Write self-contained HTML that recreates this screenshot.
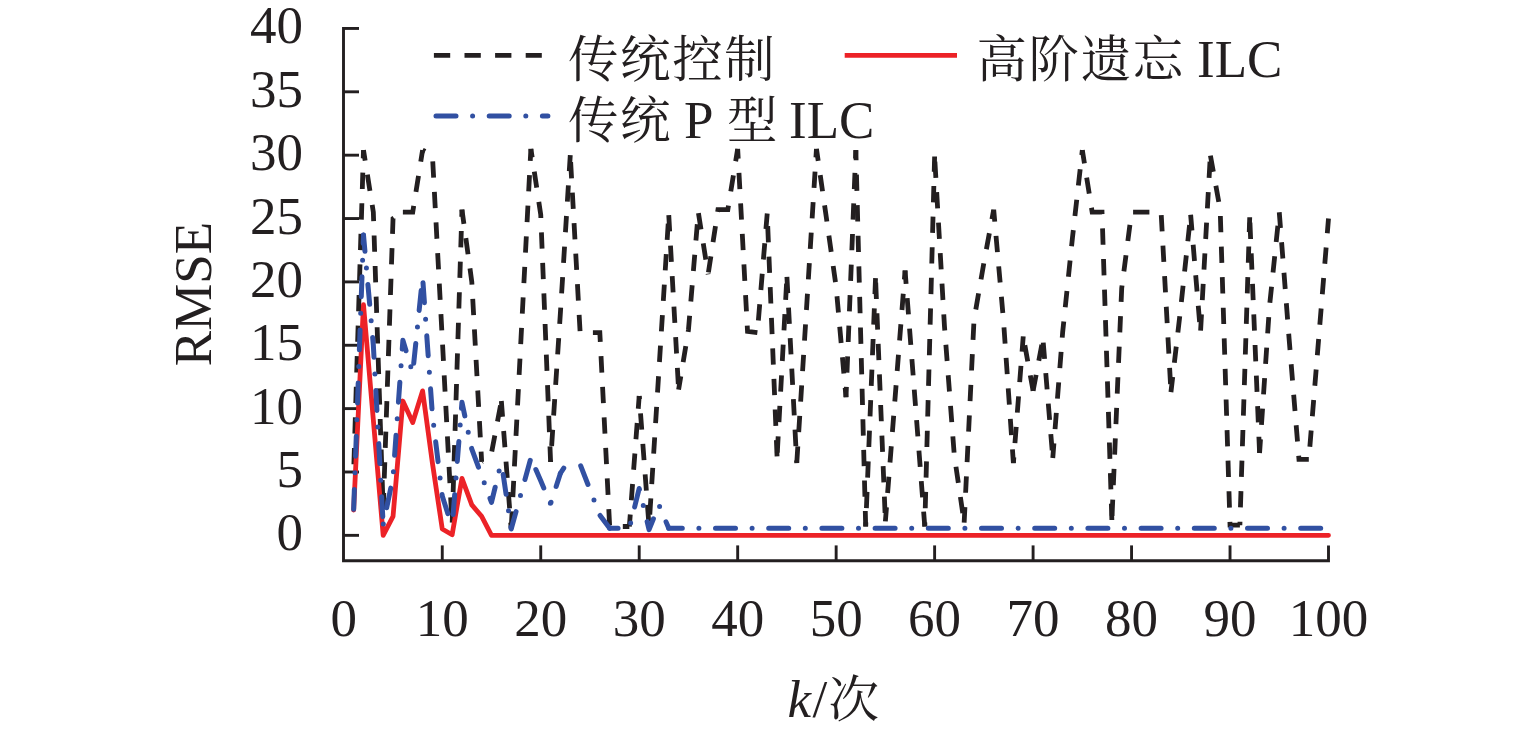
<!DOCTYPE html>
<html><head><meta charset="utf-8"><style>
html,body{margin:0;padding:0;background:#fff;overflow:hidden}
svg{display:block}
.n{font-family:"Liberation Serif","Noto Serif CJK SC",serif;font-size:53px;fill:#231f20}
.c{font-family:"Liberation Serif","Noto Serif CJK SC",serif;font-size:50.5px;fill:#231f20;font-weight:400;letter-spacing:1.6px}
tspan.n{font-size:53px}
</style></head><body>
<svg width="1535" height="734" viewBox="0 0 1535 734">
<rect width="1535" height="734" fill="#fff"/>
<path d="M343.5,26.95 V560.70 H1328.50 V545.40" fill="none" stroke="#231f20" stroke-width="2.9" stroke-linejoin="miter"/>
<line x1="343.5" x2="359" y1="535.35" y2="535.35" stroke="#231f20" stroke-width="2.9"/>
<line x1="343.5" x2="359" y1="471.99" y2="471.99" stroke="#231f20" stroke-width="2.9"/>
<line x1="343.5" x2="359" y1="408.62" y2="408.62" stroke="#231f20" stroke-width="2.9"/>
<line x1="343.5" x2="359" y1="345.26" y2="345.26" stroke="#231f20" stroke-width="2.9"/>
<line x1="343.5" x2="359" y1="281.90" y2="281.90" stroke="#231f20" stroke-width="2.9"/>
<line x1="343.5" x2="359" y1="218.54" y2="218.54" stroke="#231f20" stroke-width="2.9"/>
<line x1="343.5" x2="359" y1="155.18" y2="155.18" stroke="#231f20" stroke-width="2.9"/>
<line x1="343.5" x2="359" y1="91.81" y2="91.81" stroke="#231f20" stroke-width="2.9"/>
<line x1="343.5" x2="359" y1="28.45" y2="28.45" stroke="#231f20" stroke-width="2.9"/>
<line x1="442.27" x2="442.27" y1="560.70" y2="545.40" stroke="#231f20" stroke-width="2.9"/>
<line x1="540.74" x2="540.74" y1="560.70" y2="545.40" stroke="#231f20" stroke-width="2.9"/>
<line x1="639.21" x2="639.21" y1="560.70" y2="545.40" stroke="#231f20" stroke-width="2.9"/>
<line x1="737.68" x2="737.68" y1="560.70" y2="545.40" stroke="#231f20" stroke-width="2.9"/>
<line x1="836.15" x2="836.15" y1="560.70" y2="545.40" stroke="#231f20" stroke-width="2.9"/>
<line x1="934.62" x2="934.62" y1="560.70" y2="545.40" stroke="#231f20" stroke-width="2.9"/>
<line x1="1033.09" x2="1033.09" y1="560.70" y2="545.40" stroke="#231f20" stroke-width="2.9"/>
<line x1="1131.56" x2="1131.56" y1="560.70" y2="545.40" stroke="#231f20" stroke-width="2.9"/>
<line x1="1230.03" x2="1230.03" y1="560.70" y2="545.40" stroke="#231f20" stroke-width="2.9"/>
<polyline points="353.65,471.99 363.49,150.11" fill="none" stroke="#231f20" stroke-width="4.8" stroke-dasharray="16.3 14.3" stroke-dashoffset="22.85" stroke-linejoin="miter" stroke-miterlimit="4"/>
<polyline points="363.49,150.11 373.34,212.20 383.19,510.00" fill="none" stroke="#231f20" stroke-width="4.8" stroke-dasharray="16.3 14.3" stroke-dashoffset="5.66" stroke-linejoin="miter" stroke-miterlimit="4"/>
<polyline points="383.19,510.00 393.04,218.54 402.88,212.20" fill="none" stroke="#231f20" stroke-width="4.8" stroke-dasharray="16.3 14.3" stroke-dashoffset="29.70" stroke-linejoin="miter" stroke-miterlimit="4"/>
<polyline points="402.88,212.20 412.73,212.20 422.58,150.11" fill="none" stroke="#231f20" stroke-width="4.8" stroke-dasharray="16.3 14.3" stroke-dashoffset="0.15" stroke-linejoin="miter" stroke-miterlimit="4"/>
<polyline points="422.58,150.11 432.42,155.18 442.27,338.93 452.12,525.21" fill="none" stroke="#231f20" stroke-width="4.8" stroke-dasharray="16.3 14.3" stroke-dashoffset="13.34" stroke-linejoin="miter" stroke-miterlimit="4"/>
<polyline points="452.12,525.21 461.96,209.67" fill="none" stroke="#231f20" stroke-width="4.8" stroke-dasharray="16.3 14.3" stroke-dashoffset="27.98" stroke-linejoin="miter" stroke-miterlimit="4"/>
<polyline points="461.96,209.67 471.81,281.90 481.66,461.85" fill="none" stroke="#231f20" stroke-width="4.8" stroke-dasharray="16.3 14.3" stroke-dashoffset="1.94" stroke-linejoin="miter" stroke-miterlimit="4"/>
<polyline points="481.66,461.85 491.50,452.98 501.35,401.02" fill="none" stroke="#231f20" stroke-width="4.8" stroke-dasharray="16.3 14.3" stroke-dashoffset="15.84" stroke-linejoin="miter" stroke-miterlimit="4"/>
<polyline points="501.35,401.02 511.20,529.01" fill="none" stroke="#231f20" stroke-width="4.8" stroke-dasharray="16.3 14.3" stroke-dashoffset="0.48" stroke-linejoin="miter" stroke-miterlimit="4"/>
<polyline points="511.20,529.01 521.05,337.66 530.89,148.84" fill="none" stroke="#231f20" stroke-width="4.8" stroke-dasharray="16.3 14.3" stroke-dashoffset="29.19" stroke-linejoin="miter" stroke-miterlimit="4"/>
<polyline points="530.89,148.84 540.74,214.74 550.59,461.85" fill="none" stroke="#231f20" stroke-width="4.8" stroke-dasharray="16.3 14.3" stroke-dashoffset="7.60" stroke-linejoin="miter" stroke-miterlimit="4"/>
<polyline points="550.59,461.85 560.43,312.31 570.28,155.18" fill="none" stroke="#231f20" stroke-width="4.8" stroke-dasharray="16.3 14.3" stroke-dashoffset="14.73" stroke-linejoin="miter" stroke-miterlimit="4"/>
<polyline points="570.28,155.18 580.13,332.59 589.98,332.59 599.82,332.59 609.67,526.48 619.52,526.48 629.36,526.48" fill="none" stroke="#231f20" stroke-width="4.8" stroke-dasharray="16.3 14.3" stroke-dashoffset="23.74" stroke-linejoin="miter" stroke-miterlimit="4"/>
<polyline points="629.36,526.48 639.21,395.95" fill="none" stroke="#231f20" stroke-width="4.8" stroke-dasharray="16.3 14.3" stroke-dashoffset="4.28" stroke-linejoin="miter" stroke-miterlimit="4"/>
<polyline points="639.21,395.95 649.06,526.48" fill="none" stroke="#231f20" stroke-width="4.8" stroke-dasharray="16.3 14.3" stroke-dashoffset="13.10" stroke-linejoin="miter" stroke-miterlimit="4"/>
<polyline points="649.06,526.48 658.90,370.61 668.75,214.74" fill="none" stroke="#231f20" stroke-width="4.8" stroke-dasharray="16.3 14.3" stroke-dashoffset="18.77" stroke-linejoin="miter" stroke-miterlimit="4"/>
<polyline points="668.75,214.74 678.60,389.62" fill="none" stroke="#231f20" stroke-width="4.8" stroke-dasharray="16.3 14.3" stroke-dashoffset="30.32" stroke-linejoin="miter" stroke-miterlimit="4"/>
<polyline points="678.60,389.62 688.44,330.06 698.29,212.20" fill="none" stroke="#231f20" stroke-width="4.8" stroke-dasharray="16.3 14.3" stroke-dashoffset="2.77" stroke-linejoin="miter" stroke-miterlimit="4"/>
<polyline points="698.29,212.20 708.14,274.30" fill="none" stroke="#231f20" stroke-width="4.8" stroke-dasharray="16.3 14.3" stroke-dashoffset="29.56" stroke-linejoin="miter" stroke-miterlimit="4"/>
<polyline points="708.14,274.30 717.99,209.67 727.83,209.67 737.68,148.84" fill="none" stroke="#231f20" stroke-width="4.8" stroke-dasharray="16.3 14.3" stroke-dashoffset="28.74" stroke-linejoin="miter" stroke-miterlimit="4"/>
<polyline points="737.68,148.84 747.53,331.32 757.37,332.59" fill="none" stroke="#231f20" stroke-width="4.8" stroke-dasharray="16.3 14.3" stroke-dashoffset="6.59" stroke-linejoin="miter" stroke-miterlimit="4"/>
<polyline points="757.37,332.59 767.22,213.47" fill="none" stroke="#231f20" stroke-width="4.8" stroke-dasharray="16.3 14.3" stroke-dashoffset="18.51" stroke-linejoin="miter" stroke-miterlimit="4"/>
<polyline points="767.22,213.47 777.07,456.78" fill="none" stroke="#231f20" stroke-width="4.8" stroke-dasharray="16.3 14.3" stroke-dashoffset="18.00" stroke-linejoin="miter" stroke-miterlimit="4"/>
<polyline points="777.07,456.78 786.91,276.83" fill="none" stroke="#231f20" stroke-width="4.8" stroke-dasharray="16.3 14.3" stroke-dashoffset="26.48" stroke-linejoin="miter" stroke-miterlimit="4"/>
<polyline points="786.91,276.83 796.76,463.12" fill="none" stroke="#231f20" stroke-width="4.8" stroke-dasharray="16.3 14.3" stroke-dashoffset="30.47" stroke-linejoin="miter" stroke-miterlimit="4"/>
<polyline points="796.76,463.12 806.61,307.25 816.46,148.84" fill="none" stroke="#231f20" stroke-width="4.8" stroke-dasharray="16.3 14.3" stroke-dashoffset="30.19" stroke-linejoin="miter" stroke-miterlimit="4"/>
<polyline points="816.46,148.84 826.30,217.27 836.15,286.97 846.00,397.22" fill="none" stroke="#231f20" stroke-width="4.8" stroke-dasharray="16.3 14.3" stroke-dashoffset="4.08" stroke-linejoin="miter" stroke-miterlimit="4"/>
<polyline points="846.00,397.22 855.84,150.11" fill="none" stroke="#231f20" stroke-width="4.8" stroke-dasharray="16.3 14.3" stroke-dashoffset="5.94" stroke-linejoin="miter" stroke-miterlimit="4"/>
<polyline points="855.84,150.11 865.69,526.48" fill="none" stroke="#231f20" stroke-width="4.8" stroke-dasharray="16.3 14.3" stroke-dashoffset="6.13" stroke-linejoin="miter" stroke-miterlimit="4"/>
<polyline points="865.69,526.48 875.54,278.10" fill="none" stroke="#231f20" stroke-width="4.8" stroke-dasharray="16.3 14.3" stroke-dashoffset="12.25" stroke-linejoin="miter" stroke-miterlimit="4"/>
<polyline points="875.54,278.10 885.38,521.41" fill="none" stroke="#231f20" stroke-width="4.8" stroke-dasharray="16.3 14.3" stroke-dashoffset="26.01" stroke-linejoin="miter" stroke-miterlimit="4"/>
<polyline points="885.38,521.41 895.23,395.95 905.08,270.49" fill="none" stroke="#231f20" stroke-width="4.8" stroke-dasharray="16.3 14.3" stroke-dashoffset="2.12" stroke-linejoin="miter" stroke-miterlimit="4"/>
<polyline points="905.08,270.49 914.93,398.49 924.77,526.48" fill="none" stroke="#231f20" stroke-width="4.8" stroke-dasharray="16.3 14.3" stroke-dashoffset="2.94" stroke-linejoin="miter" stroke-miterlimit="4"/>
<polyline points="924.77,526.48 934.62,156.44" fill="none" stroke="#231f20" stroke-width="4.8" stroke-dasharray="16.3 14.3" stroke-dashoffset="12.32" stroke-linejoin="miter" stroke-miterlimit="4"/>
<polyline points="934.62,156.44 944.47,326.25 954.31,455.51 964.16,522.68" fill="none" stroke="#231f20" stroke-width="4.8" stroke-dasharray="16.3 14.3" stroke-dashoffset="25.51" stroke-linejoin="miter" stroke-miterlimit="4"/>
<polyline points="964.16,522.68 974.01,319.92 983.86,262.89 993.70,209.67" fill="none" stroke="#231f20" stroke-width="4.8" stroke-dasharray="16.3 14.3" stroke-dashoffset="0.64" stroke-linejoin="miter" stroke-miterlimit="4"/>
<polyline points="993.70,209.67 1003.55,321.18 1013.40,463.12" fill="none" stroke="#231f20" stroke-width="4.8" stroke-dasharray="16.3 14.3" stroke-dashoffset="4.30" stroke-linejoin="miter" stroke-miterlimit="4"/>
<polyline points="1013.40,463.12 1023.24,336.39" fill="none" stroke="#231f20" stroke-width="4.8" stroke-dasharray="16.3 14.3" stroke-dashoffset="10.59" stroke-linejoin="miter" stroke-miterlimit="4"/>
<polyline points="1023.24,336.39 1033.09,390.88" fill="none" stroke="#231f20" stroke-width="4.8" stroke-dasharray="16.3 14.3" stroke-dashoffset="21.55" stroke-linejoin="miter" stroke-miterlimit="4"/>
<polyline points="1033.09,390.88 1042.94,338.93" fill="none" stroke="#231f20" stroke-width="4.8" stroke-dasharray="16.3 14.3" stroke-dashoffset="0.00" stroke-linejoin="miter" stroke-miterlimit="4"/>
<polyline points="1042.94,338.93 1052.78,458.05" fill="none" stroke="#231f20" stroke-width="4.8" stroke-dasharray="16.3 14.3" stroke-dashoffset="26.86" stroke-linejoin="miter" stroke-miterlimit="4"/>
<polyline points="1052.78,458.05 1062.63,332.59 1072.48,237.55 1082.33,150.11" fill="none" stroke="#231f20" stroke-width="4.8" stroke-dasharray="16.3 14.3" stroke-dashoffset="1.64" stroke-linejoin="miter" stroke-miterlimit="4"/>
<polyline points="1082.33,150.11 1092.17,212.20 1102.02,212.20 1111.87,520.14" fill="none" stroke="#231f20" stroke-width="4.8" stroke-dasharray="16.3 14.3" stroke-dashoffset="2.84" stroke-linejoin="miter" stroke-miterlimit="4"/>
<polyline points="1111.87,520.14 1121.71,288.24 1131.56,212.20 1141.41,212.20 1151.25,212.20 1161.10,212.20" fill="none" stroke="#231f20" stroke-width="4.8" stroke-dasharray="16.3 14.3" stroke-dashoffset="26.28" stroke-linejoin="miter" stroke-miterlimit="4"/>
<polyline points="1161.10,212.20 1170.95,392.15" fill="none" stroke="#231f20" stroke-width="4.8" stroke-dasharray="16.3 14.3" stroke-dashoffset="27.71" stroke-linejoin="miter" stroke-miterlimit="4"/>
<polyline points="1170.95,392.15 1180.80,307.25 1190.64,214.74" fill="none" stroke="#231f20" stroke-width="4.8" stroke-dasharray="16.3 14.3" stroke-dashoffset="1.06" stroke-linejoin="miter" stroke-miterlimit="4"/>
<polyline points="1190.64,214.74 1200.49,332.59" fill="none" stroke="#231f20" stroke-width="4.8" stroke-dasharray="16.3 14.3" stroke-dashoffset="0.42" stroke-linejoin="miter" stroke-miterlimit="4"/>
<polyline points="1200.49,332.59 1210.34,155.18" fill="none" stroke="#231f20" stroke-width="4.8" stroke-dasharray="16.3 14.3" stroke-dashoffset="28.66" stroke-linejoin="miter" stroke-miterlimit="4"/>
<polyline points="1210.34,155.18 1220.18,209.67 1230.03,525.21 1239.88,525.21" fill="none" stroke="#231f20" stroke-width="4.8" stroke-dasharray="16.3 14.3" stroke-dashoffset="30.10" stroke-linejoin="miter" stroke-miterlimit="4"/>
<polyline points="1239.88,525.21 1249.72,217.27" fill="none" stroke="#231f20" stroke-width="4.8" stroke-dasharray="16.3 14.3" stroke-dashoffset="12.83" stroke-linejoin="miter" stroke-miterlimit="4"/>
<polyline points="1249.72,217.27 1259.57,452.98" fill="none" stroke="#231f20" stroke-width="4.8" stroke-dasharray="16.3 14.3" stroke-dashoffset="25.15" stroke-linejoin="miter" stroke-miterlimit="4"/>
<polyline points="1259.57,452.98 1269.42,307.25 1279.26,212.20" fill="none" stroke="#231f20" stroke-width="4.8" stroke-dasharray="16.3 14.3" stroke-dashoffset="2.51" stroke-linejoin="miter" stroke-miterlimit="4"/>
<polyline points="1279.26,212.20 1289.11,338.93 1298.96,459.32 1308.81,459.32" fill="none" stroke="#231f20" stroke-width="4.8" stroke-dasharray="16.3 14.3" stroke-dashoffset="0.43" stroke-linejoin="miter" stroke-miterlimit="4"/>
<polyline points="1308.81,459.32 1318.65,338.93 1328.50,218.54" fill="none" stroke="#231f20" stroke-width="4.8" stroke-dasharray="16.3 14.3" stroke-dashoffset="17.92" stroke-linejoin="miter" stroke-miterlimit="4"/>
<polyline points="353.65,510.00 363.49,304.71 373.34,420.03 383.19,535.35 393.04,516.34 402.88,401.02 412.73,422.56 422.58,390.88 432.42,463.12 442.27,529.01 452.12,534.72 461.96,478.32 471.81,504.94 481.66,516.34 491.50,535.35 501.35,535.35 511.20,535.35 521.05,535.35 530.89,535.35 540.74,535.35 550.59,535.35 560.43,535.35 570.28,535.35 580.13,535.35 589.98,535.35 599.82,535.35 609.67,535.35 619.52,535.35 629.36,535.35 639.21,535.35 649.06,535.35 658.90,535.35 668.75,535.35 678.60,535.35 688.44,535.35 698.29,535.35 708.14,535.35 717.99,535.35 727.83,535.35 737.68,535.35 747.53,535.35 757.37,535.35 767.22,535.35 777.07,535.35 786.91,535.35 796.76,535.35 806.61,535.35 816.46,535.35 826.30,535.35 836.15,535.35 846.00,535.35 855.84,535.35 865.69,535.35 875.54,535.35 885.38,535.35 895.23,535.35 905.08,535.35 914.93,535.35 924.77,535.35 934.62,535.35 944.47,535.35 954.31,535.35 964.16,535.35 974.01,535.35 983.86,535.35 993.70,535.35 1003.55,535.35 1013.40,535.35 1023.24,535.35 1033.09,535.35 1042.94,535.35 1052.78,535.35 1062.63,535.35 1072.48,535.35 1082.33,535.35 1092.17,535.35 1102.02,535.35 1111.87,535.35 1121.71,535.35 1131.56,535.35 1141.41,535.35 1151.25,535.35 1161.10,535.35 1170.95,535.35 1180.80,535.35 1190.64,535.35 1200.49,535.35 1210.34,535.35 1220.18,535.35 1230.03,535.35 1239.88,535.35 1249.72,535.35 1259.57,535.35 1269.42,535.35 1279.26,535.35 1289.11,535.35 1298.96,535.35 1308.81,535.35 1318.65,535.35 1328.50,535.35" fill="none" stroke="#ec2227" stroke-width="4.8" stroke-linejoin="round" stroke-linecap="round"/>
<polyline points="353.65,509.37 363.49,235.01" fill="none" stroke="#3150a2" stroke-width="5" stroke-dasharray="20 16.6 0 16.6" stroke-dashoffset="0" stroke-linecap="round" stroke-linejoin="round"/>
<polyline points="363.49,235.01 373.34,345.26 383.19,524.58" fill="none" stroke="#3150a2" stroke-width="5" stroke-dasharray="20 16.6 0 16.6" stroke-dashoffset="3.6" stroke-linecap="round" stroke-linejoin="round"/>
<polyline points="383.19,524.58 393.04,477.06 402.88,340.19 412.73,373.14 422.58,276.83" fill="none" stroke="#3150a2" stroke-width="5" stroke-dasharray="20 16.6 0 16.6" stroke-dashoffset="36" stroke-linecap="round" stroke-linejoin="round"/>
<polyline points="422.58,276.83 432.42,414.96 442.27,496.07 452.12,527.11" fill="none" stroke="#3150a2" stroke-width="5" stroke-dasharray="20 16.6 0 16.6" stroke-dashoffset="47.3" stroke-linecap="round" stroke-linejoin="round"/>
<polyline points="452.12,527.11 461.96,402.29 471.81,449.18 481.66,475.79 491.50,502.40 501.35,461.85" fill="none" stroke="#3150a2" stroke-width="5" stroke-dasharray="20 16.6 0 16.6" stroke-dashoffset="40.5" stroke-linecap="round" stroke-linejoin="round"/>
<polyline points="501.35,461.85 511.20,529.01 521.05,493.53 530.89,458.05" fill="none" stroke="#3150a2" stroke-width="5" stroke-dasharray="20 16.6 0 16.6" stroke-dashoffset="40.4" stroke-linecap="round" stroke-linejoin="round"/>
<polyline points="530.89,458.05 540.74,480.86 550.59,503.67" fill="none" stroke="#3150a2" stroke-width="5" stroke-dasharray="20 16.6 0 16.6" stroke-dashoffset="40.7" stroke-linecap="round" stroke-linejoin="round"/>
<polyline points="550.59,503.67 560.43,473.25" fill="none" stroke="#3150a2" stroke-width="5" stroke-dasharray="20 16.6 0 16.6" stroke-dashoffset="35.1" stroke-linecap="round" stroke-linejoin="round"/>
<polyline points="560.43,473.25 570.28,458.05 580.13,464.38" fill="none" stroke="#3150a2" stroke-width="5" stroke-dasharray="6.13 200" stroke-dashoffset="0" stroke-linecap="round" stroke-linejoin="round"/>
<polyline points="580.13,464.38 589.98,489.73 599.82,515.07 609.67,528.25" fill="none" stroke="#3150a2" stroke-width="5" stroke-dasharray="20 16.6 0 16.6" stroke-dashoffset="51.6" stroke-linecap="round" stroke-linejoin="round"/>
<polyline points="609.67,528.25 619.52,528.25 629.36,528.25 639.21,488.46 649.06,529.65 658.90,504.94 668.75,528.25" fill="none" stroke="#3150a2" stroke-width="5" stroke-dasharray="20 16.6 0 16.6" stroke-dashoffset="11.6" stroke-linecap="round" stroke-linejoin="round"/>
<polyline points="668.75,528.25 678.60,528.25 688.44,528.25 698.29,528.25 708.14,528.25 717.99,528.25 727.83,528.25 737.68,528.25 747.53,528.25 757.37,528.25 767.22,528.25 777.07,528.25 786.91,528.25 796.76,528.25 806.61,528.25 816.46,528.25 826.30,528.25 836.15,528.25 846.00,528.25 855.84,528.25 865.69,528.25 875.54,528.25 885.38,528.25 895.23,528.25 905.08,528.25 914.93,528.25 924.77,528.25 934.62,528.25 944.47,528.25 954.31,528.25 964.16,528.25 974.01,528.25 983.86,528.25 993.70,528.25 1003.55,528.25 1013.40,528.25 1023.24,528.25 1033.09,528.25 1042.94,528.25 1052.78,528.25 1062.63,528.25 1072.48,528.25 1082.33,528.25 1092.17,528.25 1102.02,528.25 1111.87,528.25 1121.71,528.25 1131.56,528.25 1141.41,528.25 1151.25,528.25 1161.10,528.25 1170.95,528.25 1180.80,528.25 1190.64,528.25 1200.49,528.25 1210.34,528.25 1220.18,528.25 1230.03,528.25 1239.88,528.25 1249.72,528.25 1259.57,528.25 1269.42,528.25 1279.26,528.25 1289.11,528.25 1298.96,528.25 1308.81,528.25 1318.65,528.25 1328.50,528.25" fill="none" stroke="#3150a2" stroke-width="5" stroke-dasharray="20 16.6 0 16.6" stroke-dashoffset="6.45" stroke-linecap="round" stroke-linejoin="round"/>
<text x="303" y="550.35" text-anchor="end" class="n">0</text>
<text x="303" y="486.99" text-anchor="end" class="n">5</text>
<text x="303" y="423.62" text-anchor="end" class="n">10</text>
<text x="303" y="360.26" text-anchor="end" class="n">15</text>
<text x="303" y="296.90" text-anchor="end" class="n">20</text>
<text x="303" y="233.54" text-anchor="end" class="n">25</text>
<text x="303" y="170.18" text-anchor="end" class="n">30</text>
<text x="303" y="106.81" text-anchor="end" class="n">35</text>
<text x="303" y="43.45" text-anchor="end" class="n">40</text>
<text x="343.80" y="636" text-anchor="middle" class="n">0</text>
<text x="442.27" y="636" text-anchor="middle" class="n">10</text>
<text x="540.74" y="636" text-anchor="middle" class="n">20</text>
<text x="639.21" y="636" text-anchor="middle" class="n">30</text>
<text x="737.68" y="636" text-anchor="middle" class="n">40</text>
<text x="836.15" y="636" text-anchor="middle" class="n">50</text>
<text x="934.62" y="636" text-anchor="middle" class="n">60</text>
<text x="1033.09" y="636" text-anchor="middle" class="n">70</text>
<text x="1131.56" y="636" text-anchor="middle" class="n">80</text>
<text x="1230.03" y="636" text-anchor="middle" class="n">90</text>
<text x="1328.50" y="636" text-anchor="middle" class="n">100</text>
<text transform="translate(211,294) rotate(-90)" text-anchor="middle" class="n">RMSE</text>
<text x="787.5" y="717" class="n"><tspan font-style="italic">k</tspan><tspan dx="1.5">/</tspan></text>
<text x="828.5" y="717" class="c">次</text>
<line x1="433.9" x2="541.8" y1="55.3" y2="55.3" stroke="#231f20" stroke-width="4.8" stroke-dasharray="16.3 14.3"/>
<line x1="844.7" x2="957" y1="55.3" y2="55.3" stroke="#ec2227" stroke-width="4.8"/>
<line x1="436.0" x2="547.9" y1="115.9" y2="115.9" stroke="#3150a2" stroke-width="5" stroke-dasharray="20 16.6 0 16.6" stroke-linecap="round"/>
<text x="568" y="77.3" class="c">传统控制</text>
<text x="976.5" y="77.3" class="c">高阶遗忘</text>
<text x="1197" y="77.4" class="n">ILC</text>
<text x="568" y="138" class="c">传统</text>
<text x="684" y="138" class="n">P</text>
<text x="727" y="138" class="c">型</text>
<text x="789" y="138" class="n">ILC</text>
</svg>
</body></html>
